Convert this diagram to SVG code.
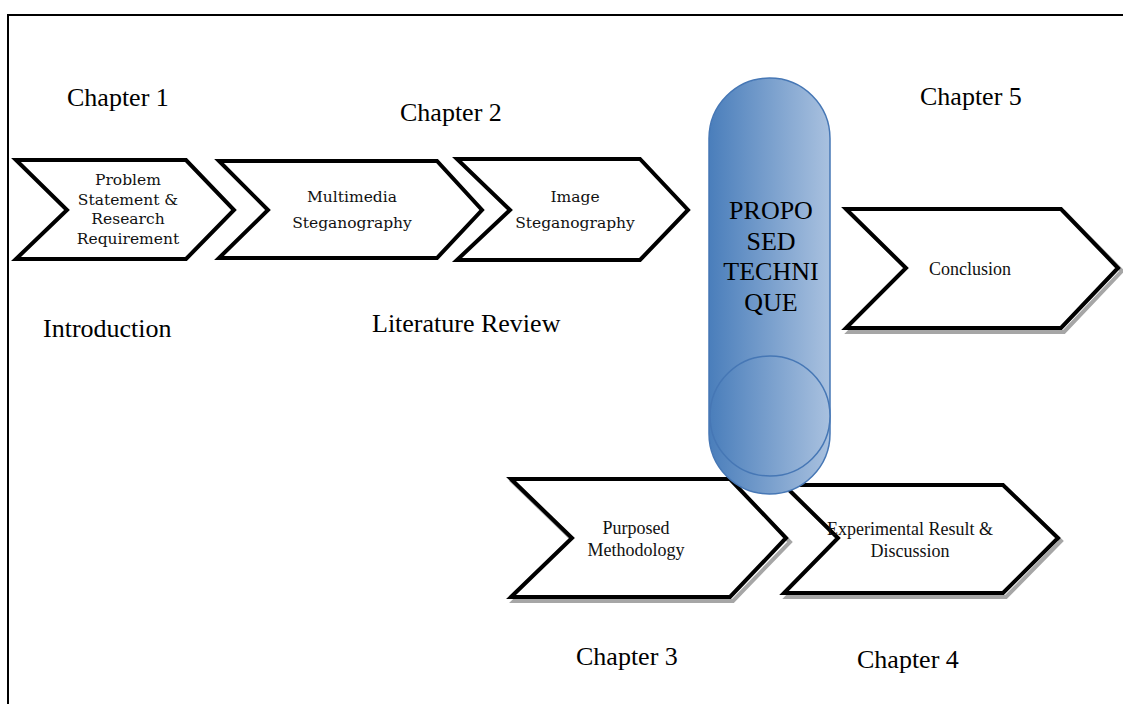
<svg xmlns="http://www.w3.org/2000/svg" width="1123" height="704" viewBox="0 0 1123 704">
<defs>
<linearGradient id="blue" x1="0" y1="0" x2="1" y2="0">
<stop offset="0" stop-color="#4a7ebb"/>
<stop offset="1" stop-color="#a9c1df"/>
</linearGradient>
<style>
.frame{fill:none;stroke:#000;stroke-width:2}
.chevA{fill:#fff;stroke:#000;stroke-width:4;stroke-linejoin:miter}
.chevB{fill:#fff;stroke:#000;stroke-width:4;stroke-linejoin:miter}
.shadow{fill:none;stroke:#a6a6a6;stroke-width:4}
.cap{font-family:"Liberation Serif","Times New Roman",serif;font-size:26px;fill:#000}
.cam{font-family:"DejaVu Serif",serif;font-size:15.5px;fill:#111;text-anchor:middle}
.tnr{font-family:"Liberation Serif","Times New Roman",serif;font-size:18px;fill:#111;text-anchor:middle}
.big{font-family:"Liberation Serif","Times New Roman",serif;font-size:26px;fill:#000;text-anchor:middle}
.pill{fill:url(#blue);stroke:#4677b5;stroke-width:1.5}
</style>
</defs>
<rect width="1123" height="704" fill="#fff"/>
<path class="frame" d="M8,704 V15 H1123"/>

<g id="labels">
<text class="cap" x="67" y="106">Chapter 1</text>
<text class="cap" x="400" y="121">Chapter 2</text>
<text class="cap" x="920" y="105">Chapter 5</text>
<text class="cap" x="43" y="337">Introduction</text>
<text class="cap" x="372" y="332">Literature Review</text>
<text class="cap" x="576" y="665">Chapter 3</text>
<text class="cap" x="857" y="668">Chapter 4</text>
</g>

<g id="n1">
<polygon class="chevA" points="16,160 186,160 234,210 186,259 16,259 67,210"/>
<text class="cam" x="128" y="185">Problem</text>
<text class="cam" x="128" y="205">Statement  &amp;</text>
<text class="cam" x="128" y="224">Research</text>
<text class="cam" x="128" y="244">Requirement</text>
</g>

<g id="n2">
<polygon class="chevA" points="219,161 437,161 482,210 437,258 219,258 268,210"/>
<text class="cam" x="352" y="202">Multimedia</text>
<text class="cam" x="352" y="228">Steganography</text>
</g>

<g id="n3">
<polygon class="chevA" points="457,159 640,159 688,210 640,260 457,260 510,210"/>
<text class="cam" x="575" y="202">Image</text>
<text class="cam" x="575" y="228">Steganography</text>
</g>

<g id="n5">
<polygon class="shadow" points="849,212 1064,212 1122,271 1064,332 849,332 909,271"/>
<polygon class="chevB" points="846,209 1061,209 1118,268 1061,328 846,328 906,268"/>
<text class="tnr" x="970" y="275">Conclusion</text>
</g>

<g id="n3b">
<polygon class="shadow" points="514,483 733,483 790,542 733,601 514,601 575,542"/>
<polygon class="chevB" points="511,479 730,479 786,538 730,597 511,597 572,538"/>
<text class="tnr" x="636" y="534">Purposed</text>
<text class="tnr" x="636" y="556">Methodology</text>
</g>

<g id="n4">
<polygon class="shadow" points="787,488 1006,488 1061,541 1006,597 787,597 841,541"/>
<polygon class="chevB" points="784,485 1003,485 1058,538 1003,593 784,593 838,538"/>
<text class="tnr" x="910" y="535">Experimental Result &amp;</text>
<text class="tnr" x="910" y="557">Discussion</text>
</g>

<g id="core">
<rect x="709" y="78" width="121" height="416" rx="60.5" ry="60.5" class="pill"/>
<circle cx="770" cy="416" r="60" class="pill"/>
<text class="big" x="771" y="219">PROPO</text>
<text class="big" x="771" y="250">SED</text>
<text class="big" x="771" y="280">TECHNI</text>
<text class="big" x="771" y="311">QUE</text>
</g>

<g id="connectors"></g>
</svg>
